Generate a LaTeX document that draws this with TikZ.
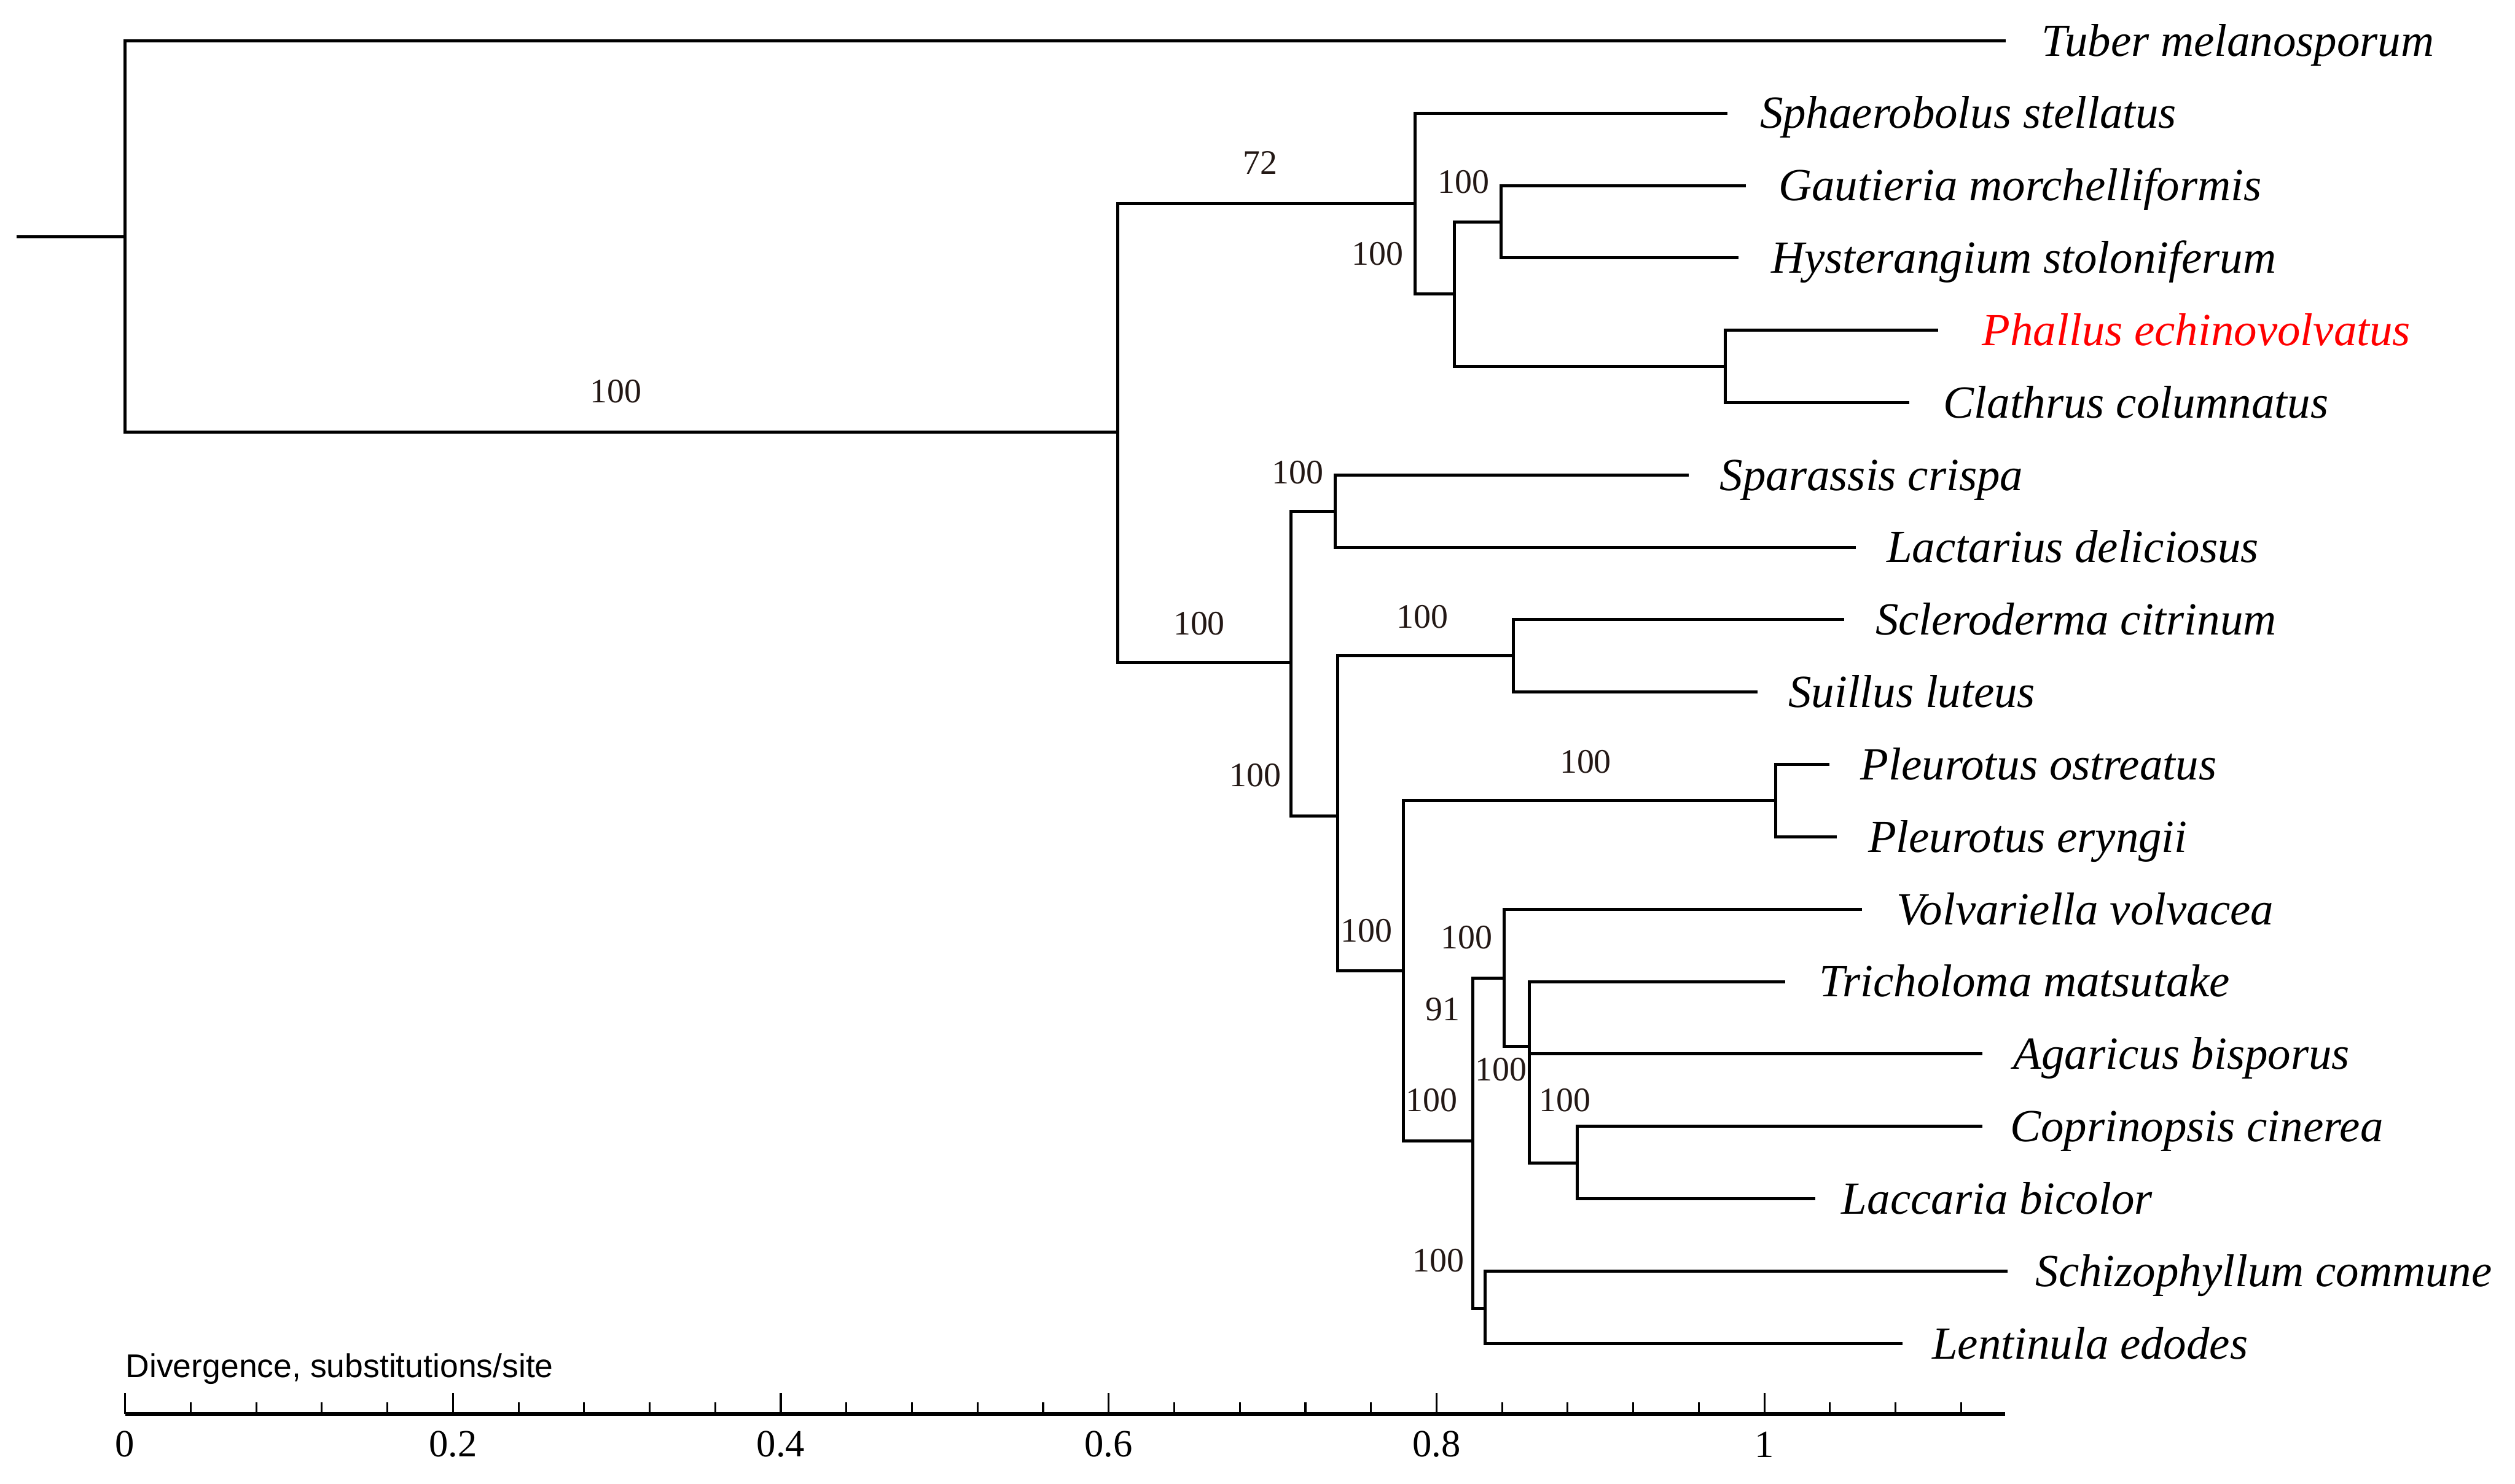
\documentclass[tikz,border=0pt]{standalone}
\usepackage{fontspec}
\setmainfont{Liberation Serif}
\newfontfamily\divfont{Liberation Sans}
\usetikzlibrary{positioning}
\definecolor{bootcol}{RGB}{35,24,21}

\begin{document}
\begin{tikzpicture}[x=0.5pt,y=-0.5pt,
    br/.style={line width=0.96pt,line join=miter},
    leaf/.style={inner sep=0pt,text height=9.5pt,text depth=0pt,font=\fontsize{14.35}{16}\selectfont\itshape},
    boot/.style={inner sep=0pt,text=bootcol,font=\fontsize{10.7}{12}\selectfont},
    tick/.style={line width=0.6pt},
    ticklab/.style={inner sep=0pt,font=\fontsize{12}{14}\selectfont}]
  \useasboundingbox (0,0) rectangle (1568,925);

  \coordinate (stub) at (10.3,147.5);
  \coordinate (root) at (78,147.5);
  \coordinate (nA) at (696.7,269.3);
  \coordinate (nB) at (882.1,127);
  \coordinate (nC) at (906.7,183.3);
  \coordinate (nD) at (935.9,138.3);
  \coordinate (nE) at (1075.5,228.3);
  \coordinate (nF) at (804.9,413.2);
  \coordinate (nG) at (832.4,318.8);
  \coordinate (nH) at (834.1,508.9);
  \coordinate (nI) at (943.5,409);
  \coordinate (nJ) at (875.1,605.5);
  \coordinate (nK) at (1107.2,499.4);
  \coordinate (nL) at (918.4,711.6);
  \coordinate (nM) at (937.7,609.8);
  \coordinate (nN) at (953.6,652.4);
  \coordinate (nO) at (983.3,725.3);
  \coordinate (nP) at (926,815.8);

  \coordinate (tTuber) at (1250.5,25.4);
  \coordinate (tSphaer) at (1076.9,70.5);
  \coordinate (tGaut) at (1088.5,115.7);
  \coordinate (tHyst) at (1083.8,160.8);
  \coordinate (tPhallus) at (1208.4,205.9);
  \coordinate (tClath) at (1190.3,251.1);
  \coordinate (tSpar) at (1052.9,296.2);
  \coordinate (tLact) at (1156.9,341.3);
  \coordinate (tScler) at (1149.9,386.4);
  \coordinate (tSuil) at (1095.6,431.6);
  \coordinate (tPleuO) at (1140.6,476.7);
  \coordinate (tPleuE) at (1145.3,521.8);
  \coordinate (tVolv) at (1161,567);
  \coordinate (tTrich) at (1113,612.1);
  \coordinate (tAgar) at (1235.9,657.2);
  \coordinate (tCopr) at (1235.9,702.4);
  \coordinate (tLacc) at (1131.8,747.5);
  \coordinate (tSchiz) at (1251.7,792.6);
  \coordinate (tLent) at (1186.2,837.7);

  \draw[br] (stub) -- (root);
  \draw[br] (root) |- (tTuber) (root) |- (nA);
  \draw[br] (nA) |- (nB) (nA) |- (nF);
  \draw[br] (nB) |- (tSphaer) (nB) |- (nC);
  \draw[br] (nC) |- (nD) (nC) |- (nE);
  \draw[br] (nD) |- (tGaut) (nD) |- (tHyst);
  \draw[br] (nE) |- (tPhallus) (nE) |- (tClath);
  \draw[br] (nF) |- (nG) (nF) |- (nH);
  \draw[br] (nG) |- (tSpar) (nG) |- (tLact);
  \draw[br] (nH) |- (nI) (nH) |- (nJ);
  \draw[br] (nI) |- (tScler) (nI) |- (tSuil);
  \draw[br] (nJ) |- (nK) (nJ) |- (nL);
  \draw[br] (nK) |- (tPleuO) (nK) |- (tPleuE);
  \draw[br] (nL) |- (nM) (nL) |- (nP);
  \draw[br] (nM) |- (tVolv) (nM) |- (nN);
  \draw[br] (nN) |- (tTrich) (nN) |- (tAgar) (nN) |- (nO);
  \draw[br] (nO) |- (tCopr) (nO) |- (tLacc);
  \draw[br] (nP) |- (tSchiz) (nP) |- (tLent);

  \node[leaf,right=11pt of tTuber] (tuber) {Tuber melanosporum};
  \node[leaf,right=10pt of tSphaer] (sphaer) {Sphaerobolus stellatus};
  \node[leaf,right=10pt of tGaut] (gaut) {Gautieria morchelliformis};
  \node[leaf,right=10pt of tHyst] (hyst) {Hysterangium stoloniferum};
  \node[leaf,right=13.5pt of tPhallus,text=red] (phallus) {Phallus echinovolvatus};
  \node[leaf,right=10.5pt of tClath] (clath) {Clathrus columnatus};
  \node[leaf,right=9.5pt of tSpar] (spar) {Sparassis crispa};
  \node[leaf,right=9.5pt of tLact] (lact) {Lactarius deliciosus};
  \node[leaf,right=9.5pt of tScler] (scler) {Scleroderma citrinum};
  \node[leaf,right=9.5pt of tSuil] (suil) {Suillus luteus};
  \node[leaf,right=9.5pt of tPleuO] (pleuo) {Pleurotus ostreatus};
  \node[leaf,right=9.5pt of tPleuE] (pleue) {Pleurotus eryngii};
  \node[leaf,right=10.5pt of tVolv] (volv) {Volvariella volvacea};
  \node[leaf,right=10.5pt of tTrich] (trich) {Tricholoma matsutake};
  \node[leaf,right=9.5pt of tAgar] (agar) {Agaricus bisporus};
  \node[leaf,right=8.5pt of tCopr] (copr) {Coprinopsis cinerea};
  \node[leaf,right=8pt of tLacc] (lacc) {Laccaria bicolor};
  \node[leaf,right=8.5pt of tSchiz] (schiz) {Schizophyllum commune};
  \node[leaf,right=9pt of tLent] (lent) {Lentinula edodes};

  \node[boot] (bA) at (384,244) {100};
  \node[boot] (bB) at (785.6,101.6) {72};
  \node[boot] (bD) at (912.5,113.3) {100};
  \node[boot] (bC) at (858.7,158.3) {100};
  \node[boot] (bG) at (809,294.5) {100};
  \node[boot] (bF) at (747.6,389) {100};
  \node[boot] (bI) at (886.8,384.7) {100};
  \node[boot] (bH) at (782.7,483.6) {100};
  \node[boot] (bK) at (988.5,474.8) {100};
  \node[boot] (bJ) at (852,580.5) {100};
  \node[boot] (bM) at (914.3,584.7) {100};
  \node[boot] (bN91) at (899.6,629.5) {91};
  \node[boot] (bN) at (935.9,666.7) {100};
  \node[boot] (bL) at (892.6,686.2) {100};
  \node[boot] (bO) at (975.7,686.2) {100};
  \node[boot] (bP) at (896.7,785.9) {100};

  \coordinate (ax0) at (78,881.5);
  \coordinate (ax1) at (1250,881.5);
  \draw[line width=1.15pt] (ax0) -- (ax1);
  \foreach \k in {0,...,28}
    \draw[tick] (78+40.88*\k,881.5) -- ++(0,-7);
  \foreach \k/\v in {0/0,1/0.2,2/0.4,3/0.6,4/0.8,5/1}{
    \draw[tick] (78+204.4*\k,881.5) -- ++(0,-13);
    \node[ticklab] (lab\k) at (78+204.4*\k,900.6) {\v};
  }
  \node[anchor=base west,inner sep=0pt,font=\divfont\fontsize{10.25}{12}\selectfont] (axtitle) at (78,858.7) {Divergence, substitutions/site};
\end{tikzpicture}
\end{document}
